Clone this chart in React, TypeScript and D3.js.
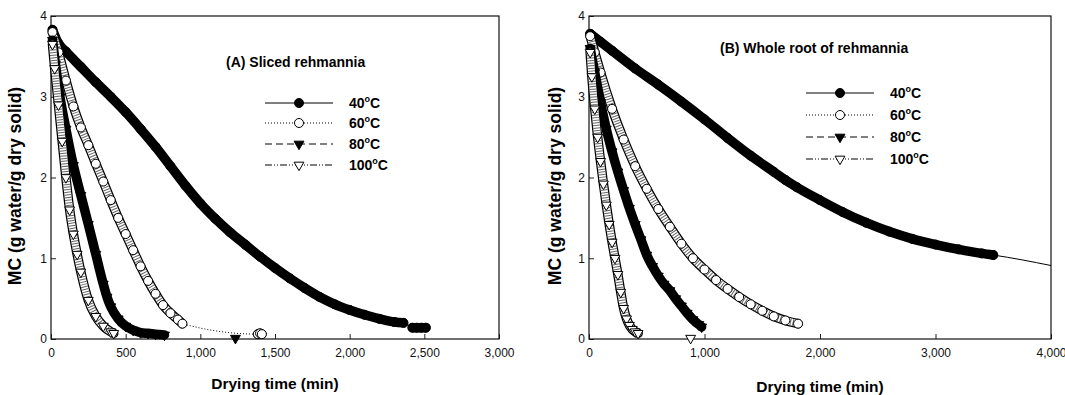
import { useEffect, useRef } from 'react';
import * as d3 from 'd3';

type Pt = [number, number];

// drying time (min), MC (g water/g dry solid)
// (A) sliced rehmannia
const a40: Pt[] = [
  [10, 3.83], [50, 3.66], [100, 3.56], [200, 3.37], [300, 3.18], [400, 3.0], [500, 2.81],
  [600, 2.6], [700, 2.38], [800, 2.14], [900, 1.9], [1000, 1.68], [1100, 1.49], [1200, 1.32],
  [1300, 1.17], [1400, 1.02], [1500, 0.88], [1600, 0.75], [1700, 0.63], [1800, 0.52],
  [1900, 0.43], [2000, 0.36], [2100, 0.3], [2200, 0.25], [2300, 0.21], [2360, 0.2],
];
const a40End: Pt[] = [[2420, 0.14], [2450, 0.14], [2480, 0.14], [2510, 0.14]];
const a60: Pt[] = [
  [10, 3.8], [50, 3.55], [100, 3.2], [150, 2.88], [200, 2.62], [250, 2.4], [300, 2.17],
  [350, 1.95], [400, 1.72], [450, 1.5], [500, 1.3], [550, 1.1], [600, 0.9], [650, 0.72],
  [700, 0.56], [750, 0.42], [800, 0.32], [850, 0.24], [880, 0.19],
];
const a60End: Pt[] = [[1385, 0.06], [1400, 0.07], [1412, 0.06]];
const a80: Pt[] = [
  [10, 3.7], [30, 3.4], [60, 3.0], [100, 2.6], [150, 2.15], [200, 1.78], [250, 1.42],
  [300, 1.05], [350, 0.68], [375, 0.52], [400, 0.4], [450, 0.25], [500, 0.16], [550, 0.11],
  [600, 0.08], [650, 0.07], [700, 0.06], [760, 0.05],
];
const a80Late: Pt[] = [[1235, 0.01]];
const a100: Pt[] = [
  [10, 3.65], [25, 3.35], [50, 2.9], [75, 2.45], [100, 2.0], [125, 1.6], [150, 1.3],
  [175, 1.05], [200, 0.83], [250, 0.48], [300, 0.28], [350, 0.16], [400, 0.09], [420, 0.07],
];

// (B) whole root of rehmannia
const b40: Pt[] = [
  [10, 3.78], [100, 3.68], [200, 3.57], [400, 3.35], [600, 3.15], [800, 2.94], [1000, 2.72],
  [1200, 2.49], [1400, 2.27], [1600, 2.07], [1700, 1.97], [1800, 1.88], [2000, 1.72],
  [2200, 1.57], [2400, 1.44], [2600, 1.33], [2800, 1.24], [3000, 1.17], [3200, 1.11],
  [3400, 1.06], [3500, 1.04],
];
const b40Tail: Pt[] = [[4000, 0.91]];
const b60: Pt[] = [
  [10, 3.75], [50, 3.55], [100, 3.3], [200, 2.85], [300, 2.47], [400, 2.14], [500, 1.86],
  [600, 1.61], [700, 1.39], [800, 1.18], [900, 1.0], [1000, 0.86], [1100, 0.73], [1200, 0.62],
  [1300, 0.52], [1400, 0.43], [1500, 0.35], [1600, 0.28], [1700, 0.23], [1810, 0.19],
];
const b80: Pt[] = [
  [10, 3.6], [50, 3.3], [100, 2.93], [150, 2.6], [200, 2.32], [250, 2.07], [300, 1.84],
  [350, 1.62], [400, 1.42], [450, 1.23], [500, 1.04], [550, 0.9], [600, 0.78], [650, 0.68],
  [700, 0.6], [750, 0.5], [800, 0.41], [850, 0.32], [900, 0.24], [950, 0.18], [975, 0.15],
];
const b100: Pt[] = [
  [10, 3.55], [25, 3.25], [50, 2.85], [75, 2.5], [100, 2.2], [125, 1.92], [150, 1.66],
  [175, 1.42], [200, 1.2], [225, 1.0], [250, 0.8], [275, 0.58], [300, 0.38], [325, 0.25],
  [350, 0.17], [375, 0.12], [400, 0.09], [425, 0.07],
];
const b100Late: Pt[] = [[880, 0.01]];

const temps = ['40', '60', '80', '100'];
const xTicksA = [0, 500, 1000, 1500, 2000, 2500, 3000];
const xTicksB = [0, 1000, 2000, 3000, 4000];
const yTicks = [0, 1, 2, 3, 4];

const FONT = '"Liberation Sans", Arial, sans-serif';

const styles = [
  { shape: d3.symbolCircle, size: 64, filled: true, dash: null },
  { shape: d3.symbolCircle, size: 64, filled: false, dash: '1,2' },
  { shape: d3.symbolTriangle, size: 42, filled: true, dash: '7,4' },
  { shape: d3.symbolTriangle, size: 42, filled: false, dash: '7,2,1,2,1,2' },
];

interface Series {
  bands: Pt[][];
  line: Pt[];
  loose: Pt[];
}

const panels = [
  {
    left: 51, right: 499, xMax: 3000, xTicks: xTicksA,
    title: '(A) Sliced rehmannia', titleX: 226, titleY: 67,
    legendX: 265, legendY: [103, 123, 144, 165], yTitleX: 21, xTitleY: 389,
    series: [
      { bands: [a40, a40End], line: a40.concat(a40End), loose: [] },
      { bands: [a60, a60End], line: a60.concat(a60End), loose: [] },
      { bands: [a80], line: a80, loose: a80Late },
      { bands: [a100], line: a100, loose: [] },
    ] as Series[],
  },
  {
    left: 589, right: 1051, xMax: 4000, xTicks: xTicksB,
    title: '(B) Whole root of rehmannia', titleX: 720, titleY: 53,
    legendX: 806, legendY: [93, 115, 137, 159], yTitleX: 561, xTitleY: 392,
    series: [
      { bands: [b40], line: b40.concat(b40Tail), loose: [] },
      { bands: [b60], line: b60, loose: [] },
      { bands: [b80], line: b80, loose: [] },
      { bands: [b100], line: b100, loose: b100Late },
    ] as Series[],
  },
];

export default function App() {
  const svgRef = useRef<SVGSVGElement>(null);

  useEffect(() => {
    if (!svgRef.current) return;
    const top = 16;
    const bottom = 339;

    const svg = d3.select(svgRef.current);
    svg.selectAll('*').remove();
    svg.append('rect').attr('width', 1065).attr('height', 395).attr('fill', '#fff');

    const markerPath = (i: number) => d3.symbol().type(styles[i].shape).size(styles[i].size)()!;

    const drawMarker = (
      g: d3.Selection<SVGGElement, unknown, null, undefined>,
      i: number,
      cx: number,
      cy: number
    ) => {
      const st = styles[i];
      const rot = st.shape === d3.symbolTriangle ? ' rotate(180)' : '';
      g.append('path')
        .attr('d', markerPath(i))
        .attr('transform', `translate(${cx},${cy})${rot}`)
        .attr('fill', st.filled ? '#000' : '#fff')
        .attr('stroke', '#000')
        .attr('stroke-width', 1);
    };

    panels.forEach((p) => {
      const x = d3.scaleLinear().domain([0, p.xMax]).range([p.left, p.right]);
      const y = d3.scaleLinear().domain([0, 4]).range([bottom, top]);
      const g = svg.append('g');

      // axes (inward ticks)
      const xAxis = g
        .append('g')
        .attr('transform', `translate(0,${bottom})`)
        .call(
          d3
            .axisBottom(x)
            .tickValues(p.xTicks)
            .tickSizeInner(-5)
            .tickSizeOuter(0)
            .tickPadding(9.5)
            .tickFormat(d3.format(',') as any)
        );
      const yAxis = g
        .append('g')
        .attr('transform', `translate(${p.left},0)`)
        .call(
          d3
            .axisLeft(y)
            .tickValues(yTicks)
            .tickSizeInner(-5)
            .tickSizeOuter(0)
            .tickPadding(4)
            .tickFormat(d3.format('d') as any)
        );
      [xAxis, yAxis].forEach((a) => {
        a.select('.domain').remove();
        a.selectAll('text').attr('font-family', FONT).attr('font-size', 12).attr('fill', '#111');
        a.selectAll('line').attr('stroke', '#222');
      });

      g.append('rect')
        .attr('x', p.left)
        .attr('y', top)
        .attr('width', p.right - p.left)
        .attr('height', bottom - top)
        .attr('fill', 'none')
        .attr('stroke', '#111')
        .attr('stroke-width', 1.2);

      const plot = g.append('g');
      const line = d3
        .line<Pt>()
        .x((d) => x(d[0]))
        .y((d) => y(d[1]))
        .curve(d3.curveMonotoneX);

      // draw slowest first so the faster curves sit on top
      [0, 1, 2, 3].forEach((i) => {
        const s = p.series[i];
        const st = styles[i];
        plot
          .append('path')
          .attr('d', line(s.line))
          .attr('fill', 'none')
          .attr('stroke', '#000')
          .attr('stroke-width', 1)
          .attr('stroke-dasharray', st.dash);
        s.bands.forEach((b) => {
          plot
            .append('path')
            .attr('d', line(b))
            .attr('fill', 'none')
            .attr('stroke', '#000')
            .attr('stroke-width', 9.5)
            .attr('stroke-linecap', 'round')
            .attr('stroke-linejoin', 'round');
          if (!st.filled) {
            plot
              .append('path')
              .attr('d', line(b))
              .attr('fill', 'none')
              .attr('stroke', '#fff')
              .attr('stroke-width', 7)
              .attr('stroke-linecap', 'round');
            plot
              .append('path')
              .attr('d', line(b))
              .attr('fill', 'none')
              .attr('stroke', '#666')
              .attr('stroke-width', 7)
              .attr('stroke-dasharray', '1,1.6');
          }
          b.forEach((d) => drawMarker(plot, i, x(d[0]), y(d[1])));
        });
        s.loose.forEach((d) => drawMarker(plot, i, x(d[0]), y(d[1])));
      });

      // title
      g.append('text')
        .attr('x', p.titleX)
        .attr('y', p.titleY)
        .attr('font-family', FONT)
        .attr('font-weight', 'bold')
        .attr('font-size', 14)
        .text(p.title);

      // legend
      temps.forEach((t, i) => {
        const ly = p.legendY[i];
        const row = g.append('g');
        row
          .append('line')
          .attr('x1', p.legendX)
          .attr('x2', p.legendX + 68)
          .attr('y1', ly)
          .attr('y2', ly)
          .attr('stroke', '#000')
          .attr('stroke-width', 1)
          .attr('stroke-dasharray', styles[i].dash);
        drawMarker(row as any, i, p.legendX + 34, ly);
        const txt = row
          .append('text')
          .attr('x', p.legendX + 84)
          .attr('y', ly + 5)
          .attr('font-family', FONT)
          .attr('font-weight', 'bold')
          .attr('font-size', 14);
        txt.append('tspan').text(t);
        txt.append('tspan').attr('font-size', 9).attr('dy', -6).text('o');
        txt.append('tspan').attr('dy', 6).text('C');
      });

      // axis titles
      g.append('text')
        .attr('x', (p.left + p.right) / 2)
        .attr('y', p.xTitleY)
        .attr('text-anchor', 'middle')
        .attr('font-family', FONT)
        .attr('font-weight', 'bold')
        .attr('font-size', 15.5)
        .text('Drying time (min)');
      g.append('text')
        .attr('transform', `translate(${p.yTitleX},186) rotate(-90)`)
        .attr('text-anchor', 'middle')
        .attr('font-family', FONT)
        .attr('font-weight', 'bold')
        .attr('font-size', 17.5)
        .text('MC (g water/g dry solid)');
    });
  }, []);

  return (
    <svg
      ref={svgRef}
      width={1065}
      height={395}
      style={{ position: 'absolute', left: 0, top: 0 }}
    ></svg>
  );
}
